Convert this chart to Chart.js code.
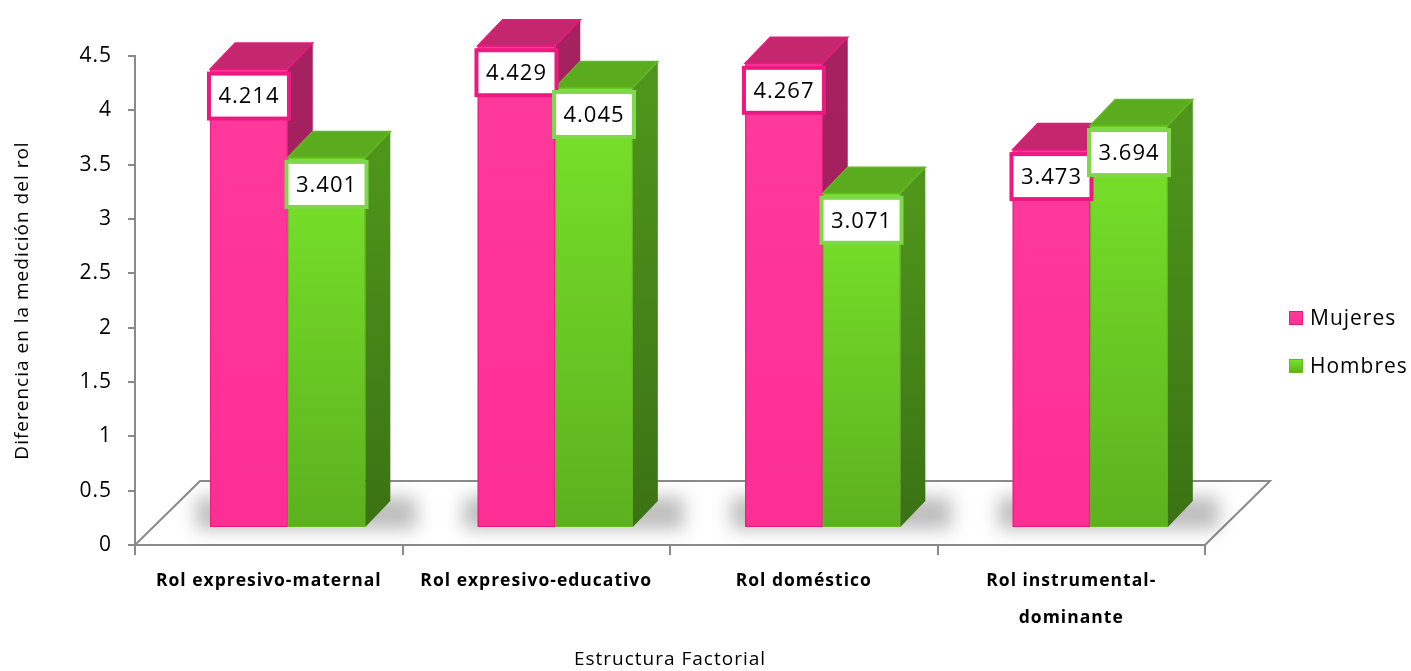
<!DOCTYPE html>
<html>
<head>
<meta charset="utf-8">
<style>
  html, body { margin: 0; padding: 0; background: #fff; }
  #wrap { width: 1411px; height: 671px; }
</style>
<script src="https://cdn.jsdelivr.net/npm/chart.js@4.4.0/dist/chart.umd.min.js"></script>
</head>
<body>
<div id="wrap"><canvas id="chart" width="1411" height="671"></canvas></div>
<script>
const categories = [
  ['Rol expresivo-maternal'],
  ['Rol expresivo-educativo'],
  ['Rol doméstico'],
  ['Rol instrumental-', 'dominante']
];
const mujeres = [4.214, 4.429, 4.267, 3.473];
const hombres = [3.401, 4.045, 3.071, 3.694];
const yTicks = [0, 0.5, 1, 1.5, 2, 2.5, 3, 3.5, 4, 4.5];

// 3d look: bar front plane offset, bar depth, floor depth
const OX = 19, OY = -18;
const DX = 25, DY = -26;
const FX = 65, FY = -64;
const AXIS = '#8a8a8a';
const FONT = "'Open Sans', sans-serif";

const looks = [
  { front: ['#ff3a9d', '#fd2e93'], top: '#c5276f', side: ['#a6215f', '#9a1d58'], border: '#ec1a80', rim: '#e8187c' },
  { front: ['#79e42a', '#5cb11e'], top: '#5aab1d', side: ['#4f951b', '#3b7214'], border: '#7ed84a', rim: '#63b823' }
];

function drawBox(ctx, l, r, t, b, c) {
  let g = ctx.createLinearGradient(0, t, 0, b);
  g.addColorStop(0, c.front[0]); g.addColorStop(1, c.front[1]);
  ctx.fillStyle = g;
  ctx.fillRect(l, t, r - l, b - t);
  ctx.strokeStyle = c.rim; ctx.lineWidth = 1;
  ctx.strokeRect(l + 0.5, t + 0.5, r - l - 1, b - t - 1);

  g = ctx.createLinearGradient(0, t, 0, b);
  g.addColorStop(0, c.side[0]); g.addColorStop(1, c.side[1]);
  ctx.fillStyle = g;
  ctx.beginPath();
  ctx.moveTo(r, t); ctx.lineTo(r + DX, t + DY); ctx.lineTo(r + DX, b + DY); ctx.lineTo(r, b);
  ctx.closePath(); ctx.fill();

  ctx.fillStyle = c.top;
  ctx.beginPath();
  ctx.moveTo(l, t); ctx.lineTo(l + DX, t + DY); ctx.lineTo(r + DX, t + DY); ctx.lineTo(r, t);
  ctx.closePath(); ctx.fill();
  ctx.strokeStyle = c.rim; ctx.lineWidth = 1.5;
  ctx.stroke();
}

const bars3d = {
  id: 'bars3d',
  beforeDraw(chart) {
    chart.ctx.letterSpacing = '1px';
  },
  beforeDatasetsDraw(chart) {
    const ctx = chart.ctx;
    const a = chart.chartArea;
    const ys = chart.scales.y;
    ctx.save();
    // floor
    ctx.strokeStyle = AXIS; ctx.lineWidth = 2;
    ctx.beginPath();
    ctx.moveTo(a.left, a.bottom);
    ctx.lineTo(a.left + FX, a.bottom + FY);
    ctx.lineTo(a.right + FX, a.bottom + FY);
    ctx.lineTo(a.right, a.bottom);
    ctx.stroke();

    const metas = chart.data.datasets.map((d, i) => chart.getDatasetMeta(i));
    const base = ys.getPixelForValue(0) + OY;
    // soft shadows on the floor
    categories.forEach((c, i) => {
      const p = metas[0].data[i], q = metas[metas.length - 1].data[i];
      const l = p.x - p.width / 2 + OX, r = q.x + q.width / 2 + OX;
      ctx.save();
      ctx.filter = 'blur(9px)';
      ctx.fillStyle = 'rgba(0,0,0,0.26)';
      ctx.fillRect(l - 14, base - 30, r - l + DX + 40, 32);
      ctx.restore();
    });
    // boxes
    categories.forEach((c, i) => {
      metas.forEach((m, di) => {
        const el = m.data[i];
        const v = chart.data.datasets[di].data[i];
        const l = el.x - el.width / 2 + OX, r = el.x + el.width / 2 + OX;
        drawBox(ctx, l, r, ys.getPixelForValue(v) + OY, base, looks[di]);
      });
    });
    // value labels
    ctx.font = '22px ' + FONT;
    ctx.textAlign = 'center';
    ctx.textBaseline = 'middle';
    categories.forEach((c, i) => {
      metas.forEach((m, di) => {
        const el = m.data[i];
        const v = chart.data.datasets[di].data[i];
        const cx = el.x + OX, cy = ys.getPixelForValue(v) + OY + 27;
        const w = 80, h = 45;
        ctx.fillStyle = '#fff';
        ctx.fillRect(cx - w / 2, cy - h / 2, w, h);
        ctx.strokeStyle = looks[di].border; ctx.lineWidth = 4;
        ctx.strokeRect(cx - w / 2, cy - h / 2, w, h);
        ctx.fillStyle = '#000';
        ctx.fillText(v.toFixed(3), cx, cy + 1);
      });
    });
    // legend
    ctx.font = '21px ' + FONT;
    ctx.textAlign = 'left';
    chart.data.datasets.forEach((d, di) => {
      const y = 318 + di * 48;
      const g = ctx.createLinearGradient(0, y - 7, 0, y + 7);
      g.addColorStop(0, looks[di].front[0]); g.addColorStop(1, looks[di].front[1]);
      ctx.fillStyle = g;
      ctx.fillRect(1289, y - 7, 14, 14);
      ctx.strokeStyle = looks[di].rim; ctx.lineWidth = 1;
      ctx.strokeRect(1289.5, y - 6.5, 13, 13);
      ctx.fillStyle = '#000';
      ctx.fillText(d.label, 1310, y + 1);
    });
    ctx.restore();
    return false;
  }
};

new Chart(document.getElementById('chart'), {
  type: 'bar',
  data: {
    labels: categories,
    datasets: [
      { label: 'Mujeres', data: mujeres, backgroundColor: '#ff3399' },
      { label: 'Hombres', data: hombres, backgroundColor: '#6fd628' }
    ]
  },
  options: {
    responsive: false,
    animation: false,
    events: [],
    layout: { padding: { top: 56, right: 206, left: 0, bottom: 0 } },
    datasets: { bar: { categoryPercentage: 0.58, barPercentage: 1 } },
    plugins: { legend: { display: false }, tooltip: { enabled: false } },
    scales: {
      x: {
        afterFit: s => { s.height = 126; },
        grid: { drawOnChartArea: false, offset: true, tickLength: 10, color: AXIS, lineWidth: 2 },
        border: { display: true, color: AXIS, width: 2 },
        ticks: { color: '#000', padding: 8, maxRotation: 0, font: { family: FONT, size: 17.5, weight: 'bold', lineHeight: 2.1 } },
        title: { display: true, text: 'Estructura Factorial', color: '#000', padding: { top: 1, bottom: 0 }, font: { family: FONT, size: 19 } }
      },
      y: {
        min: 0, max: 4.5,
        afterFit: s => { s.width = 135; },
        afterBuildTicks: s => { s.ticks = yTicks.map(v => ({ value: v })); },
        grid: { drawOnChartArea: false, tickLength: 7, color: AXIS, lineWidth: 2 },
        border: { display: true, color: AXIS, width: 2 },
        ticks: { color: '#000', padding: 16, callback: v => String(v), font: { family: FONT, size: 21 } },
        title: { display: true, text: 'Diferencia en la medición del rol', color: '#000', padding: { top: 11, bottom: 0 }, font: { family: FONT, size: 19 } }
      }
    }
  },
  plugins: [bars3d]
});
</script>
</body>
</html>
